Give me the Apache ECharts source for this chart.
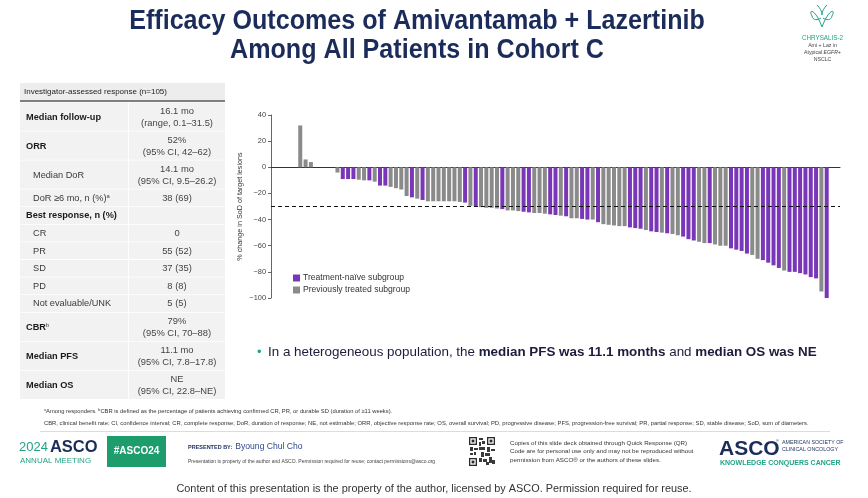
<!DOCTYPE html>
<html>
<head>
<meta charset="utf-8">
<script src="https://cdn.jsdelivr.net/npm/echarts@6/dist/echarts.min.js"></script>
<style>
  html, body { margin: 0; padding: 0; background: #ffffff; }
  #main { width: 868px; height: 498px; }
</style>
</head>
<body>
<div id="main"></div>
<script>
// Best percentage change from baseline in sum of diameters, one entry per patient (sorted waterfall)
const pctChange = [
  32, 6, 4, null, null, null, null, -4, -9, -9,
  -9, -9.5, -10, -10, -11, -14, -14, -15, -16, -17,
  -22, -23, -24, -25, -26, -26, -26, -26, -26, -26,
  -26.5, -27, -29.5, -30, -30.5, -31, -31, -31.5, -32, -33,
  -33, -33.5, -34, -34.5, -35, -35, -35.5, -36, -36.5, -37,
  -37.5, -39, -39, -39.5, -40, -40, -42, -43.5, -44, -44.5,
  -45, -45, -46, -46.5, -47, -48, -49, -49.5, -50, -50.5,
  -51, -52, -53, -55, -56, -57, -58, -58, -59, -60,
  -60, -62, -63, -64, -66, -67, -70, -71, -73, -75,
  -77, -79, -80, -80, -81, -82, -84, -85, -95, -100
];
// N = treatment-naive, T = previously treated
const subgroup = [
  'T', 'T', 'T', '', '', '', '', 'T', 'N', 'N',
  'N', 'T', 'T', 'N', 'T', 'N', 'N', 'T', 'T', 'T',
  'T', 'N', 'T', 'N', 'T', 'T', 'T', 'T', 'T', 'T',
  'T', 'N', 'T', 'N', 'T', 'T', 'T', 'T', 'N', 'T',
  'T', 'T', 'N', 'N', 'T', 'T', 'T', 'N', 'N', 'T',
  'N', 'T', 'T', 'N', 'N', 'T', 'N', 'T', 'T', 'T',
  'T', 'T', 'N', 'N', 'N', 'T', 'N', 'N', 'T', 'N',
  'T', 'T', 'N', 'N', 'N', 'T', 'T', 'N', 'T', 'T',
  'T', 'N', 'N', 'N', 'N', 'T', 'T', 'N', 'N', 'N',
  'N', 'T', 'N', 'N', 'N', 'N', 'N', 'N', 'T', 'N'
];
const seriesNames = ['Treatment-na\u00efve subgroup', 'Previously treated subgroup'];
const responseThreshold = -30;
const yTickRange = { min: -100, max: 40, step: 20 };

const tableHeader = 'Investigator-assessed response (n=105)';
const tableRows = [
  { label: 'Median follow-up', kind: 'main', value: ['16.1 mo', '(range, 0.1\u201331.5)'] },
  { label: 'ORR', kind: 'main', value: ['52%', '(95% CI, 42\u201362)'] },
  { label: 'Median DoR', kind: 'sub', value: ['14.1 mo', '(95% CI, 9.5\u201326.2)'] },
  { label: 'DoR \u22656 mo, n (%)', note: 'a', kind: 'sub', value: ['38 (69)'] },
  { label: 'Best response, n (%)', kind: 'main', value: [] },
  { label: 'CR', kind: 'sub', value: ['0'] },
  { label: 'PR', kind: 'sub', value: ['55 (52)'] },
  { label: 'SD', kind: 'sub', value: ['37 (35)'] },
  { label: 'PD', kind: 'sub', value: ['8 (8)'] },
  { label: 'Not evaluable/UNK', kind: 'sub', value: ['5 (5)'] },
  { label: 'CBR', note: 'b', kind: 'main', value: ['79%', '(95% CI, 70\u201388)'] },
  { label: 'Median PFS', kind: 'main', value: ['11.1 mo', '(95% CI, 7.8\u201317.8)'] },
  { label: 'Median OS', kind: 'main', value: ['NE', '(95% CI, 22.8\u2013NE)'] }
];

const FONT = 'Liberation Sans, Arial, Helvetica, sans-serif';
const NAVY = '#1b2c5a';
const TEAL = '#22a386';
const PURPLE = '#7a36b8';
const GREY = '#8a8a8a';

// ---- waterfall series data ----
const naiveData = [];
const pretreatedData = [];
pctChange.forEach((v, i) => {
  if (v === null) return;
  (subgroup[i] === 'N' ? naiveData : pretreatedData).push([i, v]);
});

function txt(text, x, y, size, opts) {
  return {
    type: 'text', silent: true,
    style: Object.assign({ text: text, x: x, y: y, fontSize: size, fontFamily: FONT, fill: '#333', textVerticalAlign: 'middle' }, opts || {})
  };
}

const g = [];

// ---- slide title ----
['Efficacy Outcomes of Amivantamab + Lazertinib', 'Among All Patients in Cohort C'].forEach((t, i) => {
  g.push({
    type: 'text', silent: true, x: 417, y: 22 + i * 29, scaleX: 0.93,
    style: { text: t, x: 0, y: 0, fontSize: 27, fontWeight: 'bold', fontFamily: FONT, fill: NAVY, textAlign: 'center', textVerticalAlign: 'middle' }
  });
});

// ---- table graphics ----
const tx = 20, tw = 205, colSplit = 128;
g.push({ type: 'rect', silent: true, shape: { x: tx, y: 83, width: tw, height: 17 }, style: { fill: '#ededed' } });
g.push({ type: 'rect', silent: true, shape: { x: tx, y: 100, width: tw, height: 2 }, style: { fill: '#7f7f7f' } });
g.push(txt(tableHeader, 24, 91.5, 8, { fill: '#222' }));

let rowY = 102.5;
tableRows.forEach(r => {
  const h = r.value.length === 2 ? 29 : 17.6;
  const cy = rowY + h / 2;
  g.push({ type: 'rect', silent: true, shape: { x: tx, y: rowY, width: colSplit - tx, height: h - 0.8 }, style: { fill: '#f2f2f2' } });
  g.push({ type: 'rect', silent: true, shape: { x: colSplit + 0.8, y: rowY, width: tx + tw - colSplit - 0.8, height: h - 0.8 }, style: { fill: '#f2f2f2' } });
  const isMain = r.kind === 'main';
  const labelStyle = { fontSize: 9.2, fontFamily: FONT, fontWeight: isMain ? 'bold' : 'normal', fill: isMain ? '#1a1a1a' : '#3a3a3a' };
  g.push({
    type: 'text', silent: true,
    style: {
      text: '{l|' + r.label + '}' + (r.note ? '{s|' + r.note + '}' : ''),
      x: isMain ? 26 : 33, y: cy, textVerticalAlign: 'middle',
      rich: { l: labelStyle, s: { fontSize: 5.8, fontFamily: FONT, fill: '#3a3a3a', verticalAlign: 'top', lineHeight: 10 } }
    }
  });
  const valueOpts = { fill: '#444', textAlign: 'center' };
  if (r.value.length === 2) {
    g.push(txt(r.value[0], 177, cy - 6, 9.4, valueOpts));
    g.push(txt(r.value[1], 177, cy + 6, 9.4, valueOpts));
  } else if (r.value.length === 1) {
    g.push(txt(r.value[0], 177, cy, 9.4, valueOpts));
  }
  rowY += h;
});

// ---- study badge (top right) ----
[
  [822, 27, 812, 16, 815, 8, 808, 9],
  [812, 16, 821, 18, 813, 21, 818, 20],
  [822, 27, 832, 16, 829, 8, 836, 9],
  [832, 16, 823, 18, 831, 21, 826, 20],
  [817, 5, 822, 15, 820, 8, 822, 11],
  [827, 5, 822, 15, 824, 8, 822, 11]
].forEach(([x1, y1, x2, y2, c1x, c1y, c2x, c2y]) => {
  g.push({ type: 'bezierCurve', silent: true, shape: { x1: x1, y1: y1, x2: x2, y2: y2, cpx1: c1x, cpy1: c1y, cpx2: c2x, cpy2: c2y }, style: { stroke: TEAL, lineWidth: 1, fill: null } });
});
g.push(txt('CHRYSALIS-2', 822.5, 38, 6.3, { fill: TEAL, textAlign: 'center' }));
g.push(txt('Ami + Laz in', 822.5, 46, 5.2, { fill: '#444', textAlign: 'center' }));
g.push({ type: 'text', silent: true, style: { text: '{a|Atypical }{i|EGFR}{a|+}', x: 822.5, y: 53, textAlign: 'center', textVerticalAlign: 'middle', rich: { a: { fontSize: 5.2, fontFamily: FONT, fill: '#444' }, i: { fontSize: 5.2, fontFamily: FONT, fontStyle: 'italic', fill: '#444' } } } });
g.push(txt('NSCLC', 822.5, 60, 5.2, { fill: '#444', textAlign: 'center' }));

// ---- key message ----
g.push(txt('\u2022', 257, 352, 13, { fill: TEAL }));
g.push({
  type: 'text', silent: true,
  style: {
    text: '{n|In a heterogeneous population, the }{b|median PFS was 11.1 months}{n| and }{b|median OS was NE}',
    x: 268, y: 352, textVerticalAlign: 'middle',
    rich: {
      n: { fontSize: 13.4, fontFamily: FONT, fill: '#1c1c3c' },
      b: { fontSize: 13.4, fontFamily: FONT, fontWeight: 'bold', fill: '#1c1c3c' }
    }
  }
});

// ---- footnotes ----
g.push({ type: 'text', silent: true, style: { text: '{s|a}{t|Among responders. }{s|b}{t|CBR is defined as the percentage of patients achieving confirmed CR, PR, or durable SD (duration of \u226511 weeks).}', x: 44, y: 411, textVerticalAlign: 'middle', rich: { t: { fontSize: 5.8, fontFamily: FONT, fill: '#333' }, s: { fontSize: 3.8, fontFamily: FONT, fill: '#333', verticalAlign: 'top' } } } });
g.push(txt('CBR, clinical benefit rate; CI, confidence interval; CR, complete response; DoR, duration of response; NE, not estimable; ORR, objective response rate; OS, overall survival; PD, progressive disease; PFS, progression-free survival; PR, partial response; SD, stable disease; SoD, sum of diameters.', 44, 423, 5.85));
g.push({ type: 'rect', silent: true, shape: { x: 40, y: 431, width: 790, height: 0.8 }, style: { fill: '#d0d0d0' } });

// ---- footer ----
g.push({ type: 'text', silent: true, style: { text: '{y|2024}{a|ASCO}', x: 19, y: 447, textVerticalAlign: 'middle', rich: { y: { fontSize: 13, fontFamily: FONT, fill: TEAL, padding: [0, 2, 0, 0] }, a: { fontSize: 16.5, fontFamily: FONT, fontWeight: 'bold', fill: NAVY } } } });
g.push(txt('ANNUAL MEETING', 20, 461, 8, { fill: TEAL }));
g.push({ type: 'rect', silent: true, shape: { x: 107, y: 436, width: 59, height: 31 }, style: { fill: '#1d9c6c' } });
g.push(txt('#ASCO24', 136.5, 451.5, 10, { fontWeight: 'bold', fill: '#ffffff', textAlign: 'center' }));
g.push({ type: 'text', silent: true, style: { text: '{p|PRESENTED BY:  }{n|Byoung Chul Cho}', x: 188, y: 447, textVerticalAlign: 'middle', rich: { p: { fontSize: 5.5, fontFamily: FONT, fontWeight: 'bold', fill: NAVY }, n: { fontSize: 8.6, fontFamily: FONT, fill: '#2c4a8c' } } } });
g.push(txt('Presentation is property of the author and ASCO. Permission required for reuse; contact permissions@asco.org', 188, 462, 5, { fill: '#444' }));

// QR code block
const qx = 469, qy = 437, qs = 26;
[[0, 0], [qs - 8, 0], [0, qs - 5]].forEach(([dx, dy]) => {
  g.push({ type: 'rect', silent: true, shape: { x: qx + dx, y: qy + dy, width: 8, height: 8 }, style: { fill: '#2a2a2a' } });
  g.push({ type: 'rect', silent: true, shape: { x: qx + dx + 1.3, y: qy + dy + 1.3, width: 5.4, height: 5.4 }, style: { fill: '#ffffff' } });
  g.push({ type: 'rect', silent: true, shape: { x: qx + dx + 2.6, y: qy + dy + 2.6, width: 2.8, height: 2.8 }, style: { fill: '#2a2a2a' } });
});
[[10, 1, 4, 2], [10, 5, 2, 4], [13, 4, 3, 3], [1, 10, 3, 4], [5, 11, 4, 2], [10, 10, 6, 3], [18, 10, 3, 5], [22, 12, 4, 2], [12, 15, 3, 5], [16, 16, 5, 3], [10, 21, 3, 4], [14, 22, 4, 3], [20, 20, 3, 6], [23, 23, 3, 4], [17, 25, 3, 3], [5, 15, 2, 3], [1, 16, 3, 2]].forEach(([dx, dy, w, h]) => {
  g.push({ type: 'rect', silent: true, shape: { x: qx + dx, y: qy + dy, width: w, height: h }, style: { fill: '#3a3a3a' } });
});
['Copies of this slide deck obtained through Quick Response (QR)', 'Code are for personal use only and may not be reproduced without', 'permission from ASCO\u00ae or the authors of these slides.'].forEach((t, i) => {
  g.push(txt(t, 510, 443 + i * 8.6, 6.2));
});
g.push(txt('ASCO', 719, 449, 21, { fontWeight: 'bold', fill: NAVY }));
g.push(txt('\u00ae', 776, 441, 4, { fill: NAVY }));
g.push(txt('AMERICAN SOCIETY OF', 782, 443, 5.3, { fill: NAVY }));
g.push(txt('CLINICAL ONCOLOGY', 782, 450, 5.3, { fill: NAVY }));
g.push(txt('KNOWLEDGE CONQUERS CANCER', 720, 463, 7, { fontWeight: 'bold', fill: TEAL }));
g.push(txt('Content of this presentation is the property of the author, licensed by ASCO. Permission required for reuse.', 434, 489, 10.9, { textAlign: 'center' }));

// ---- chart ----
const chart = echarts.init(document.getElementById('main'), null, { renderer: 'canvas' });
chart.setOption({
  animation: false,
  backgroundColor: '#ffffff',
  legend: {
    data: seriesNames,
    orient: 'vertical',
    left: 293, top: 273, padding: 0,
    itemWidth: 7, itemHeight: 7, itemGap: 2,
    icon: 'rect',
    selectedMode: false,
    textStyle: { fontSize: 8.6, fontFamily: FONT, color: '#333', lineHeight: 10, padding: [0, 0, 0, -2] }
  },
  grid: { left: 271, top: 115, width: 569, height: 183, containLabel: false },
  xAxis: {
    type: 'value',
    min: -5.5, max: 101.5,
    axisLine: { show: true, onZero: true, lineStyle: { color: '#333', width: 1 } },
    axisTick: { show: false },
    axisLabel: { show: false },
    splitLine: { show: false }
  },
  yAxis: {
    type: 'value',
    min: yTickRange.min, max: yTickRange.max, interval: yTickRange.step,
    name: '% change in SoD of target lesions',
    nameLocation: 'middle', nameGap: 27, nameRotate: 90, nameMoveOverlap: false,
    nameTextStyle: { fontSize: 7.2, fontFamily: FONT, color: '#333' },
    axisLine: { show: true, onZero: false, lineStyle: { color: '#666', width: 1 } },
    axisTick: { show: true, length: 3, lineStyle: { color: '#666' } },
    axisLabel: {
      fontSize: 7.4, fontFamily: FONT, color: '#444', margin: 5,
      formatter: v => (v < 0 ? '\u2212' + Math.abs(v) : String(v))
    },
    splitLine: { show: false }
  },
  series: [
    {
      name: seriesNames[0], type: 'bar', data: naiveData,
      barWidth: 4, barGap: '-100%',
      itemStyle: { color: PURPLE }
    },
    {
      name: seriesNames[1], type: 'bar', data: pretreatedData,
      barWidth: 4, barGap: '-100%',
      itemStyle: { color: GREY },
      markLine: {
        silent: true, symbol: 'none',
        label: { show: false },
        lineStyle: { type: [4, 3], color: '#111', width: 1 },
        data: [{ yAxis: responseThreshold }]
      }
    }
  ],
  graphic: g
});
</script>
</body>
</html>
